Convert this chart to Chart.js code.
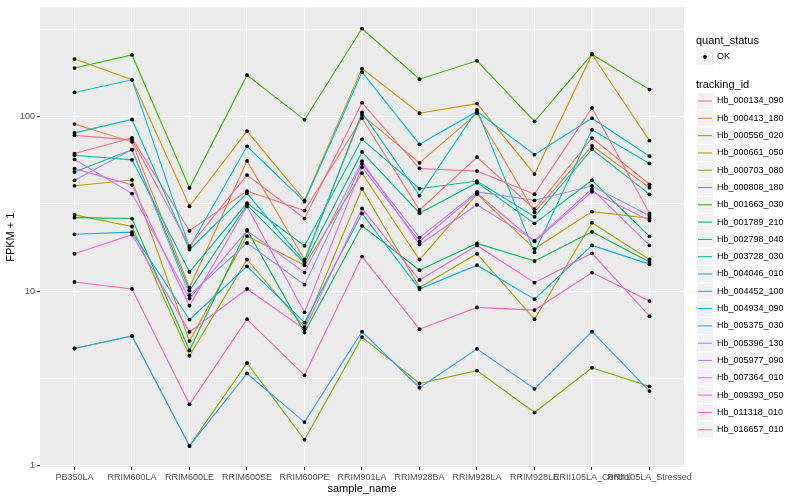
<!DOCTYPE html>
<html>
<head>
<meta charset="utf-8">
<script src="https://cdn.jsdelivr.net/npm/chart.js@4.4.0/dist/chart.umd.min.js"></script>
<style>
  html, body { margin: 0; padding: 0; background: #fff; }
</style>
</head>
<body>
<canvas id="chart" width="800" height="500"></canvas>
<script>
const samples = ["PB350LA", "RRIM600LA", "RRIM600LE", "RRIM600SE", "RRIM600PE", "RRIM901LA",
  "RRIM928BA", "RRIM928LA", "RRIM928LE", "RRII105LA_Control", "RRII105LA_Stressed"];

const trackingIds = ["Hb_000134_090", "Hb_000413_180", "Hb_000556_020", "Hb_000661_050",
  "Hb_000703_080", "Hb_000808_180", "Hb_001663_030", "Hb_001789_210", "Hb_002798_040",
  "Hb_003728_030", "Hb_004046_010", "Hb_004452_100", "Hb_004934_090", "Hb_005375_030",
  "Hb_005396_130", "Hb_005977_090", "Hb_007364_010", "Hb_009393_050", "Hb_011318_010",
  "Hb_016657_010"];

// FPKM + 1 per sample
const hb000134 = [61.5, 75.6, 22.2, 37.5, 29.0, 98.1, 29.2, 58.6, 29.5, 75.4, 41.0];
const hb000413 = [90.7, 71.8, 10.5, 55.8, 15.2, 102.5, 54.4, 104.7, 28.3, 68.1, 39.2];
const hb000556 = [214, 162.8, 30.7, 82.7, 33.2, 188.7, 104.7, 118.9, 46.9, 228, 72.9];
const hb000661 = [40.2, 43.4, 5.18, 20.7, 14.1, 47.5, 15.2, 36.0, 17.5, 28.6, 26.2];
const hb000703 = [27.4, 23.5, 4.27, 15.2, 6.22, 38.7, 10.5, 16.4, 6.91, 24.7, 15.2];
const hb000808 = [4.70, 5.55, 1.30, 3.88, 1.41, 5.46, 2.96, 3.51, 2.02, 3.64, 2.85];
const hb001663 = [190, 226, 39.1, 173, 96.0, 320, 164, 209, 93.9, 228, 143];
const hb001789 = [26.4, 26.1, 4.58, 22.5, 5.80, 23.7, 13.2, 18.8, 14.9, 21.9, 14.7];
const hb002798 = [48.2, 64.8, 10.1, 31.3, 14.5, 62.8, 28.0, 41.9, 24.5, 43.2, 20.6];
const hb003728 = [60.2, 56.6, 12.9, 32.0, 18.2, 74.2, 38.7, 42.8, 26.7, 65.1, 35.9];
const hb004046 = [80.8, 96.4, 17.3, 36.4, 14.8, 105.7, 35.3, 109.4, 16.7, 84.2, 54.0];
const hb004452 = [137.8, 162.8, 17.8, 67.7, 32.6, 180, 69.5, 107.1, 60.6, 98.1, 59.4];
const hb004934 = [21.2, 21.8, 6.87, 13.9, 6.61, 27.9, 10.3, 14.1, 9.01, 18.3, 14.3];
const hb005375 = [4.70, 5.55, 1.30, 3.38, 1.78, 5.87, 2.80, 4.68, 2.76, 5.87, 2.68];
const hb005396 = [43.2, 64.8, 9.50, 18.9, 10.9, 53.7, 20.3, 37.1, 33.2, 40.1, 27.1];
const hb005977 = [56.9, 36.3, 9.09, 22.2, 12.8, 55.6, 18.5, 31.3, 19.5, 38.5, 18.3];
const hb007364 = [50.4, 40.6, 8.26, 30.6, 7.57, 51.4, 19.3, 36.4, 19.3, 37.1, 25.4];
const hb009393 = [16.4, 21.1, 5.85, 10.3, 6.06, 29.8, 11.6, 18.3, 11.2, 16.5, 7.19];
const hb011318 = [11.3, 10.3, 2.25, 6.91, 3.30, 15.8, 6.06, 8.08, 7.80, 12.8, 8.78];
const hb016657 = [78.2, 73.7, 18.1, 46.3, 26.1, 120.4, 50.5, 48.8, 36.0, 112.4, 27.9];

const seriesValues = [hb000134, hb000413, hb000556, hb000661, hb000703, hb000808, hb001663,
  hb001789, hb002798, hb003728, hb004046, hb004452, hb004934, hb005375, hb005396, hb005977,
  hb007364, hb009393, hb011318, hb016657];

const yTicks = [1, 10, 100];
const yMinorTicks = [3.162, 31.62, 316.2];

const palette = ["#F8766D", "#EA8331", "#D89000", "#C09B00", "#A3A500", "#7CAE00", "#39B600",
  "#00BB4E", "#00BF7D", "#00C1A3", "#00BFC4", "#00BAE0", "#00B0F6", "#35A2FF", "#9590FF",
  "#C77CFF", "#E76BF3", "#FA62DB", "#FF62BC", "#FF6C91"];

const FONT = "'Liberation Sans', Arial, Helvetica, sans-serif";

const toPoints = (vals) => vals.map((v, j) => ({ x: j, y: v }));

const lineSets = trackingIds.map((id, i) => ({
  label: id,
  data: toPoints(seriesValues[i]),
  showLine: true,
  borderColor: palette[i],
  backgroundColor: palette[i],
  borderWidth: 1.1,
  pointRadius: 0,
  pointHoverRadius: 0,
  order: trackingIds.length - i,
}));

const pointSets = seriesValues.map((vals) => ({
  label: "OK",
  data: toPoints(vals),
  showLine: false,
  pointRadius: 1.9,
  pointBackgroundColor: "#000",
  pointBorderWidth: 0,
  order: -1,
}));

const panelBg = {
  id: "panelBg",
  beforeDraw(chart) {
    const { ctx, chartArea: a } = chart;
    ctx.save();
    ctx.fillStyle = "#EBEBEB";
    ctx.fillRect(a.left, a.top, a.right - a.left, a.bottom - a.top);
    ctx.restore();
  },
};

const ggLegend = {
  id: "ggLegend",
  afterDraw(chart) {
    const c = chart.ctx;
    const x0 = 696;
    c.save();
    c.textBaseline = "middle";
    c.textAlign = "left";

    c.fillStyle = "#000";
    c.font = "11px " + FONT;
    c.fillText("quant_status", x0, 41);
    c.fillStyle = "#F2F2F2";
    c.fillRect(x0 + 1, 49, 16, 16);
    c.fillStyle = "#000";
    c.beginPath();
    c.arc(x0 + 9, 57, 1.9, 0, 2 * Math.PI);
    c.fill();
    c.font = "9px " + FONT;
    c.fillText("OK", 717, 57);

    c.font = "11px " + FONT;
    c.fillText("tracking_id", x0, 85);
    c.font = "9px " + FONT;
    lineSets.forEach((ds, i) => {
      const y = 101 + i * 17.3;
      c.fillStyle = "#F2F2F2";
      c.fillRect(x0 + 1, y - 8, 16, 16);
      c.strokeStyle = ds.borderColor;
      c.lineWidth = 1.1;
      c.beginPath();
      c.moveTo(x0 + 2, y);
      c.lineTo(x0 + 16, y);
      c.stroke();
      c.fillStyle = "#000";
      c.fillText(ds.label, 717, y);
    });
    c.restore();
  },
};

new Chart(document.getElementById("chart").getContext("2d"), {
  type: "scatter",
  data: { datasets: [...lineSets, ...pointSets] },
  plugins: [panelBg, ggLegend],
  options: {
    responsive: false,
    animation: false,
    layout: { padding: { left: 0, right: 116, top: 5, bottom: 0 } },
    plugins: {
      legend: { display: false },
      tooltip: { enabled: false },
    },
    scales: {
      x: {
        type: "linear",
        min: -0.6,
        max: samples.length - 0.4,
        afterBuildTicks: (scale) => {
          scale.ticks = samples.map((s, i) => ({ value: i }));
        },
        afterFit: (scale) => {
          scale.height = 33;
        },
        ticks: {
          autoSkip: false,
          maxRotation: 0,
          minRotation: 0,
          padding: 2,
          color: "#4D4D4D",
          font: { family: FONT, size: 9 },
          callback: (v) => samples[v],
        },
        grid: {
          color: "#FFFFFF",
          lineWidth: 1.1,
          tickLength: 3,
          tickColor: "#333333",
        },
        border: { display: false },
        title: {
          display: true,
          text: "sample_name",
          color: "#000",
          font: { family: FONT, size: 11 },
          padding: { top: 0, bottom: 4 },
        },
      },
      y: {
        type: "logarithmic",
        min: 0.984,
        max: 423,
        bounds: "data",
        afterBuildTicks: (scale) => {
          scale.ticks = [...yTicks, ...yMinorTicks].sort((a, b) => a - b).map((v) => ({ value: v }));
        },
        afterFit: (scale) => {
          scale.width = 40;
        },
        ticks: {
          padding: 2,
          color: "#4D4D4D",
          font: { family: FONT, size: 9 },
          callback: (v) => (yTicks.includes(v) ? String(v) : ""),
        },
        grid: {
          color: "#FFFFFF",
          lineWidth: (ctx) => (ctx.tick && yTicks.includes(ctx.tick.value) ? 1.1 : 0.55),
          tickLength: 3,
          tickColor: (ctx) => (ctx.tick && yTicks.includes(ctx.tick.value) ? "#333333" : "rgba(0,0,0,0)"),
        },
        border: { display: false },
        title: {
          display: true,
          text: "FPKM + 1",
          color: "#000",
          font: { family: FONT, size: 11 },
          padding: { top: 4, bottom: 2 },
        },
      },
    },
  },
});
</script>
</body>
</html>
